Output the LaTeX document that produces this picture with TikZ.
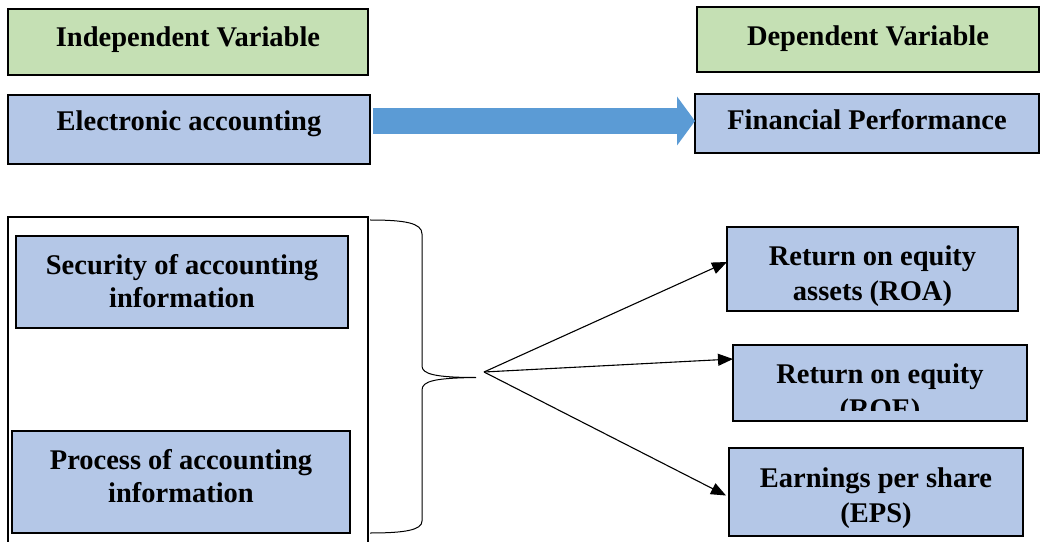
\documentclass[tikz,border=0pt]{standalone}
\usepackage{fontspec}
\setmainfont{Liberation Serif}
\usetikzlibrary{arrows.meta,calc}
\definecolor{boxGreen}{RGB}{197,224,180}
\definecolor{boxBlue}{RGB}{180,199,231}
\definecolor{arrowBlue}{RGB}{91,155,213}
\tikzset{
  varbox/.style={draw=black,line width=2.4pt,inner sep=0pt,outer sep=0pt},
  greenbox/.style={varbox,fill=boxGreen},
  bluebox/.style={varbox,fill=boxBlue},
  lefttext/.style={align=center,inner sep=0pt,font=\fontsize{28.5}{33}\selectfont\bfseries},
  righttext/.style={align=center,inner sep=0pt,font=\fontsize{28.5}{35}\selectfont\bfseries},
  frame/.style={draw=black,line width=2pt},
  bracket/.style={draw=black,line width=1pt},
  link/.style={draw=black,line width=1.1pt,-{Triangle[length=15pt,width=12pt]}},
  fatarrow/.style={draw=arrowBlue,line width=26pt,-{Triangle[length=18pt,width=49pt,line width=0pt]}}
}
\begin{document}
\begin{tikzpicture}[x=1pt,y=1pt]
\path[use as bounding box,fill=white] (0,0) rectangle (1040,541);

\node[greenbox,minimum width=360,minimum height=66] (indep) at (188,499) {};
\node[greenbox,minimum width=342,minimum height=65] (dep) at (868,501.5) {};
\node[bluebox,minimum width=362,minimum height=69] (elec) at (189,411.5) {};
\node[bluebox,minimum width=344,minimum height=59] (fp) at (867,417.5) {};

\node[lefttext] (indep-t) at ([yshift=2pt]indep.center) {Independent Variable};
\node[lefttext] (dep-t) at ([yshift=1pt]dep.center) {Dependent Variable};
\node[lefttext] (elec-t) at ([yshift=5.5pt]elec.center) {Electronic accounting};
\node[lefttext] (fp-t) at ([yshift=3.5pt]fp.center) {Financial Performance};

\draw[fatarrow] ($(elec.east)+(3,8.5)$) -- ($(elec.east -| fp.west)+(0,8.5)$);

\draw[frame] (8,-3) -- (8,324) -- (368,324) -- (368,-3);

\node[bluebox,minimum width=332,minimum height=92] (sec) at (182,259) {};
\node[bluebox,minimum width=338,minimum height=102] (proc) at (181,59) {};
\node[lefttext] (sec-t) at ([yshift=1pt]sec.center) {Security of accounting\\information};
\node[lefttext] (proc-t) at ([yshift=6pt]proc.center) {Process of accounting\\information};

\draw[bracket] (370,321) .. controls (405,321) and (422,318) .. (422,307) -- (422,175)
  .. controls (422,167) and (435,163.5) .. (476,163.5)
  .. controls (435,163) and (422,160) .. (422,151) -- (422,20)
  .. controls (422,11) and (405,8) .. (370,8);

\node[bluebox,minimum width=291,minimum height=84] (roa) at (872.5,272) {};
\node[bluebox,minimum width=294,minimum height=76] (roe) at (880,158) {};
\node[bluebox,minimum width=294,minimum height=88] (eps) at (876,49) {};

\node[righttext] (roa-t) at ([yshift=-7pt]roa.center) {Return on equity\\assets (ROA)};
\begin{scope}
\clip ($(roe.south west)+(0,11)$) rectangle (roe.north east);
\node[righttext] (roe-t) at ([yshift=-11pt]roe.center) {Return on equity\\(ROE)};
\end{scope}
\node[righttext] (eps-t) at ([yshift=-6pt]eps.center) {Earnings per share\\(EPS)};

\coordinate (hub) at (484,169);
\draw[link] (hub) -- ([yshift=7pt]roa.west);
\draw[link] (hub) -- ([yshift=24pt]roe.west);
\draw[link] (hub) -- ([xshift=-3pt,yshift=-3.5pt]eps.west);
\end{tikzpicture}
\end{document}
